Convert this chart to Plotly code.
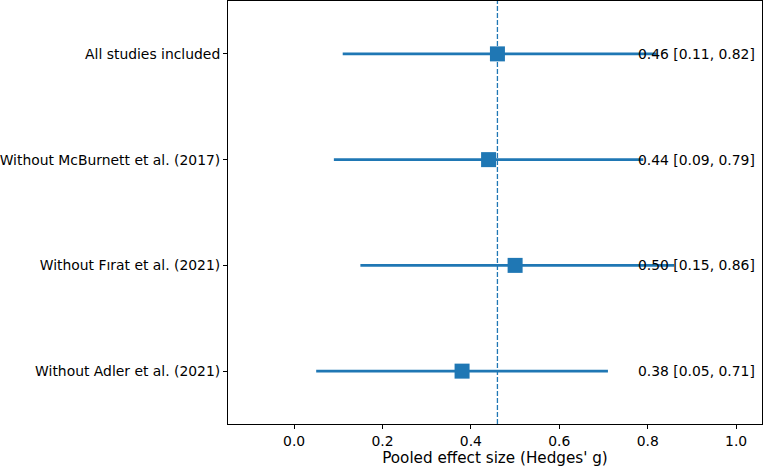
import plotly.graph_objects as go

labels = ["All studies included", "Without McBurnett et al. (2017)",
          "Without Fırat et al. (2021)", "Without Adler et al. (2021)"]
effects = [0.46, 0.44, 0.50, 0.38]
lower = [0.11, 0.09, 0.15, 0.05]
upper = [0.82, 0.79, 0.86, 0.71]
pooled = 0.46
text_x = 0.78

color = "#1f77b4"
font = dict(family="DejaVu Sans", size=13.9, color="black")
title_font = dict(family="DejaVu Sans", size=15.2, color="black")

ypos = list(range(len(labels)))

fig = go.Figure()
fig.add_trace(go.Scatter(
    x=effects, y=ypos, mode="markers",
    marker=dict(symbol="square", size=15, color=color),
    error_x=dict(type="data", symmetric=False,
                 array=[u - e for u, e in zip(upper, effects)],
                 arrayminus=[e - l for e, l in zip(effects, lower)],
                 thickness=2.6, width=0, color=color),
    showlegend=False, hoverinfo="skip"))

fig.add_shape(type="line", xref="x", yref="paper", x0=pooled, x1=pooled, y0=0, y1=1,
              line=dict(color=color, width=1.3, dash="5px,2px"), layer="below")

for y, e, l, u in zip(ypos, effects, lower, upper):
    fig.add_annotation(x=text_x, y=y, xref="x", yref="y",
                       text=f"{e:.2f} [{l:.2f}, {u:.2f}]", showarrow=False,
                       xanchor="left", yanchor="middle", xshift=-3, font=font)

fig.update_layout(
    width=764, height=467,
    margin=dict(l=228, r=2, t=1, b=43),
    paper_bgcolor="white", plot_bgcolor="white",
    font=font,
    xaxis=dict(range=[-0.1495, 1.0585], tickvals=[0, 0.2, 0.4, 0.6, 0.8, 1.0],
               tickformat=".1f", showgrid=False, zeroline=False,
               showline=True, mirror=True, linecolor="black", linewidth=1,
               ticks="outside", ticklen=4, tickcolor="black",
               title=dict(text="Pooled effect size (Hedges' g)", font=title_font, standoff=3)),
    yaxis=dict(range=[len(labels) - 0.5, -0.5], tickvals=ypos, ticktext=labels,
               showgrid=False, zeroline=False,
               showline=True, mirror=True, linecolor="black", linewidth=1,
               ticks="outside", ticklen=4, tickcolor="black"),
)

fig.write_html("out.html")
